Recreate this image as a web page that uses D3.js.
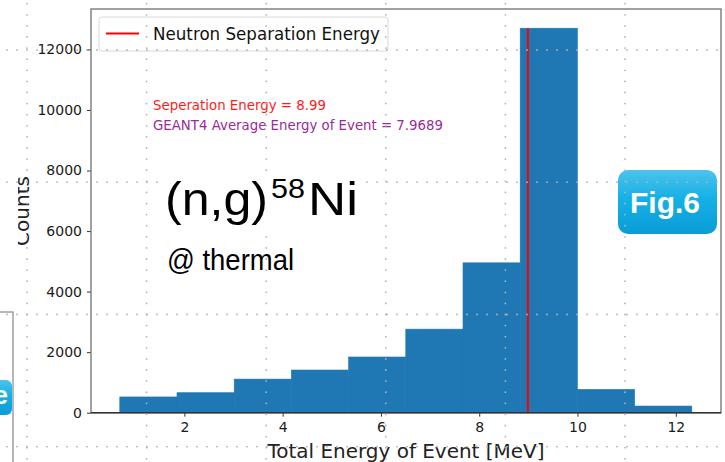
<!DOCTYPE html>
<html>
<head>
<meta charset="utf-8">
<script src="https://cdn.jsdelivr.net/npm/d3@7"></script>
<style>
  body { margin: 0; background: #fff; }
  svg { display: block; font-family: "DejaVu Sans", sans-serif; }
</style>
</head>
<body>
<svg id="chart" width="725" height="462"></svg>
<script>

/////// Data

var binEdges = [0.686, 1.850, 3.014, 4.178, 5.342, 6.506, 7.670, 8.834, 9.998, 11.162, 12.326];
var counts = [520, 660, 1110, 1410, 1840, 2760, 4950, 12700, 770, 220];
var xTicks = [2, 4, 6, 8, 10, 12];
var yTicks = [0, 2000, 4000, 6000, 8000, 10000, 12000];
var separationEnergy = 8.99;
var averageEnergy = 7.9689;

/////// Layout

var width = 725, height = 462;
var margin = {left: 91, top: 9, right: 4, bottom: 49.3};

var svg = d3.select('#chart');

var x = d3.scaleLinear()
    .domain([0.1, 12.92])
    .range([margin.left, width - margin.right]);

var y = d3.scaleLinear()
    .domain([0, 13335])
    .range([height - margin.bottom, margin.top]);

var defs = svg.append('defs');

var grad = defs.append('linearGradient')
    .attr('id', 'badge')
    .attr('x1', 0).attr('y1', 0)
    .attr('x2', 0).attr('y2', 1);
grad.append('stop').attr('offset', '0%').attr('stop-color', '#4cc3ec');
grad.append('stop').attr('offset', '45%').attr('stop-color', '#15b0e6');
grad.append('stop').attr('offset', '100%').attr('stop-color', '#0a9cd6');

defs.append('clipPath')
    .attr('id', 'leftcut')
  .append('rect')
    .attr('x', 18).attr('y', 0)
    .attr('width', width).attr('height', height);

//// neighbour slide piece on the left edge

svg.append('rect')
    .attr('x', -20).attr('y', 312)
    .attr('width', 33).attr('height', 200)
    .attr('fill', '#fff')
    .attr('stroke', '#888')
    .attr('stroke-width', 1.2);

svg.append('rect')
    .attr('x', -30).attr('y', 380)
    .attr('width', 42).attr('height', 35)
    .attr('rx', 6)
    .attr('fill', 'url(#badge)');

svg.append('text')
    .attr('x', 8).attr('y', 404)
    .attr('text-anchor', 'end')
    .attr('fill', '#fff')
    .style('font-family', '"Liberation Sans", Arial, sans-serif')
    .style('font-weight', 'bold')
    .style('font-size', '26px')
    .text('e');

//// histogram

var bins = counts.map(function (c, i) {
  return {x0: binEdges[i], x1: binEdges[i + 1], n: c};
});

svg.append('g')
  .selectAll('rect')
  .data(bins)
  .join('rect')
    .attr('x', function (d) { return x(d.x0); })
    .attr('y', function (d) { return y(d.n); })
    .attr('width', function (d) { return x(d.x1) - x(d.x0); })
    .attr('height', function (d) { return y(0) - y(d.n); })
    .attr('fill', '#1f77b4')
    .attr('stroke', '#1f77b4')
    .attr('stroke-width', 0.6);

svg.append('line')
    .attr('x1', x(separationEnergy)).attr('x2', x(separationEnergy))
    .attr('y1', y(0)).attr('y2', y(d3.max(counts)))
    .attr('stroke', '#ff0000')
    .attr('stroke-width', 2);

//// axes

var xAxis = svg.append('g')
    .attr('transform', 'translate(0,' + y(0) + ')')
    .call(d3.axisBottom(x).tickValues(xTicks).tickSize(4).tickPadding(5).tickFormat(d3.format('d')));

var yAxis = svg.append('g')
    .attr('transform', 'translate(' + margin.left + ',0)')
    .call(d3.axisLeft(y).tickValues(yTicks).tickSize(4).tickPadding(5).tickFormat(d3.format('d')));

[xAxis, yAxis].forEach(function (g) {
  g.select('.domain').remove();
  g.selectAll('.tick line').attr('stroke', '#333').attr('stroke-width', 1);
  g.selectAll('.tick text')
      .attr('fill', '#1a1a1a')
      .style('font-family', '"DejaVu Sans", sans-serif')
      .style('font-size', '14px');
});

// spines
svg.append('rect')
    .attr('x', margin.left).attr('y', margin.top)
    .attr('width', width - margin.right - margin.left)
    .attr('height', y(0) - margin.top)
    .attr('fill', 'none')
    .attr('stroke', '#7a7a7a')
    .attr('stroke-width', 1.4);

svg.append('line')
    .attr('x1', margin.left).attr('x2', width - margin.right)
    .attr('y1', y(0)).attr('y2', y(0))
    .attr('stroke', '#333')
    .attr('stroke-width', 1.4);

svg.append('text')
    .attr('x', 406).attr('y', 457.7)
    .attr('text-anchor', 'middle')
    .attr('textLength', 277)
    .attr('lengthAdjust', 'spacingAndGlyphs')
    .attr('fill', '#222')
    .style('font-size', '20px')
    .text('Total Energy of Event [MeV]');

svg.append('g')
    .attr('clip-path', 'url(#leftcut)')
  .append('text')
    .attr('transform', 'translate(28.5,211) rotate(-90)')
    .attr('text-anchor', 'middle')
    .attr('fill', '#222')
    .style('font-size', '20px')
    .text('Counts');

//// legend and notes

var legend = svg.append('g');

legend.append('rect')
    .attr('x', 99).attr('y', 17)
    .attr('width', 289).attr('height', 34)
    .attr('rx', 3)
    .attr('fill', '#fff')
    .attr('fill-opacity', 0.85)
    .attr('stroke', '#d8d8d8');

legend.append('line')
    .attr('x1', 106).attr('x2', 139)
    .attr('y1', 33.5).attr('y2', 33.5)
    .attr('stroke', '#ff0000')
    .attr('stroke-width', 2);

legend.append('text')
    .attr('x', 153).attr('y', 40)
    .attr('textLength', 227)
    .attr('lengthAdjust', 'spacingAndGlyphs')
    .attr('fill', '#111')
    .style('font-size', '18px')
    .text('Neutron Separation Energy');

svg.append('text')
    .attr('x', 153).attr('y', 110)
    .attr('textLength', 173)
    .attr('lengthAdjust', 'spacingAndGlyphs')
    .attr('fill', '#ff1a1a')
    .style('font-size', '14px')
    .text('Seperation Energy = ' + separationEnergy);

svg.append('text')
    .attr('x', 153).attr('y', 130)
    .attr('textLength', 290)
    .attr('lengthAdjust', 'spacingAndGlyphs')
    .attr('fill', '#9a2a9a')
    .style('font-size', '14px')
    .text('GEANT4 Average Energy of Event = ' + averageEnergy);

//// Fig.6 badge (sits under the dotted guide grid)

svg.append('rect')
    .attr('x', 618).attr('y', 170)
    .attr('width', 99).attr('height', 64)
    .attr('rx', 10)
    .attr('fill', 'url(#badge)');

svg.append('text')
    .attr('x', 665).attr('y', 213)
    .attr('text-anchor', 'middle')
    .attr('fill', '#fff')
    .style('font-family', '"Liberation Sans", Arial, sans-serif')
    .style('font-weight', 'bold')
    .style('font-size', '30px')
    .text('Fig.6');

//// dotted guide grid over the whole picture

var gridXs = [27, 146.6, 266.2, 385.8, 505.4, 625];
var gridYs = [50, 182.2, 314.5, 446.7];
var dots = [];

gridXs.forEach(function (gx) {
  for (var gy = 314.5 - 11.1 * 28; gy < height; gy += 11.1) {
    if (gy > 0) dots.push([gx, gy]);
  }
});
gridYs.forEach(function (gy) {
  for (var gx = 7; gx < width; gx += 10) dots.push([gx, gy]);
});

svg.append('g')
  .selectAll('circle')
  .data(dots)
  .join('circle')
    .attr('cx', function (d) { return d[0]; })
    .attr('cy', function (d) { return d[1]; })
    .attr('r', 0.9)
    .attr('fill', '#b4b4b4');

//// title pasted on top

svg.append('rect')
    .attr('x', 162).attr('y', 172)
    .attr('width', 202).attr('height', 64)
    .attr('fill', '#fff');

var title = svg.append('g')
    .style('font-family', '"Liberation Sans", Arial, sans-serif')
    .attr('fill', '#000');

title.append('text')
    .attr('x', 165).attr('y', 215)
    .attr('textLength', 103)
    .attr('lengthAdjust', 'spacingAndGlyphs')
    .style('font-size', '46px')
    .text('(n,g)');

title.append('text')
    .attr('x', 271).attr('y', 198)
    .attr('textLength', 34)
    .attr('lengthAdjust', 'spacingAndGlyphs')
    .style('font-size', '27px')
    .text('58');

title.append('text')
    .attr('x', 308).attr('y', 215)
    .attr('textLength', 50)
    .attr('lengthAdjust', 'spacingAndGlyphs')
    .style('font-size', '46px')
    .text('Ni');

title.append('text')
    .attr('x', 167).attr('y', 270)
    .attr('textLength', 127)
    .attr('lengthAdjust', 'spacingAndGlyphs')
    .style('font-size', '30px')
    .text('@ thermal');

</script>
</body>
</html>
